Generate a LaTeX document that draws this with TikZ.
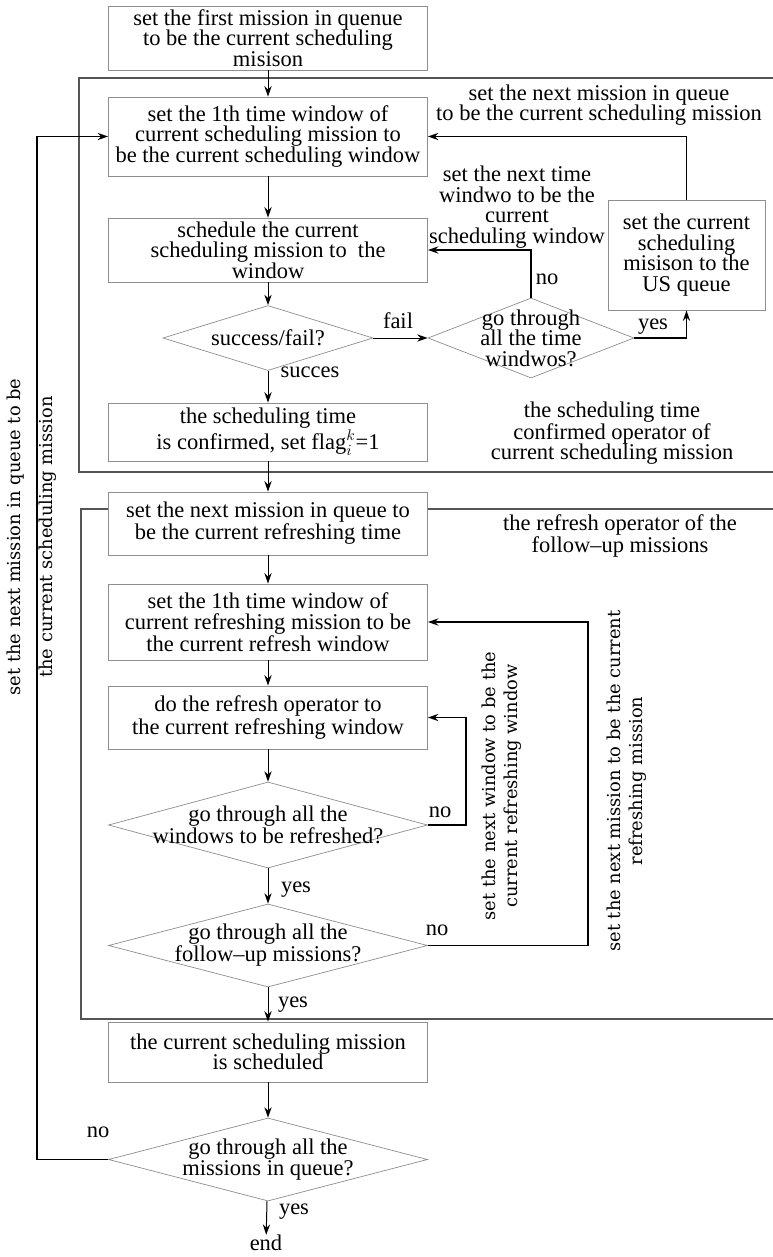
\documentclass[tikz,border=0pt]{standalone}
\usepackage{fontspec}
\setmainfont{Liberation Serif}
\newfontfamily\rotfont{DejaVu Serif}
\usepackage{tikz}
\usetikzlibrary{arrows.meta,shapes.geometric}
\definecolor{boxgray}{HTML}{8E8E8E}
\definecolor{framegray}{HTML}{555555}
\newcommand{\boxfont}{\fontsize{16}{14.6}\selectfont}
\newcommand{\sidefont}{\rotfont\fontsize{12.7}{15.6}\selectfont}
\tikzset{
  procbox/.style={
    rectangle, draw=boxgray, line width=0.6pt, fill=white,
    minimum width=7.975cm, inner sep=1pt, align=center, font=\boxfont
  },
  decision/.style={diamond, draw=boxgray, line width=0.5pt, fill=white, inner sep=0pt},
  dtext/.style={align=center, font=\boxfont, inner sep=0pt},
  flowarrow/.style={-{Stealth[length=2.6mm,width=1.8mm]}, line width=0.7pt, color=black},
  backarrow/.style={-{Stealth[length=2.6mm,width=1.8mm]}, line width=1.2pt, color=black},
  framebox/.style={draw=framegray, line width=0.9pt},
  sidenote/.style={align=center, font=\boxfont, inner sep=0pt},
  rotnote/.style={rotate=90, align=center, font=\sidefont, inner sep=0pt},
  flowlabel/.style={font=\boxfont, inner sep=0pt},
}
\begin{document}
\begin{tikzpicture}[x=0.025cm, y=-0.025cm]
  \useasboundingbox (0,0) rectangle (773,1257);
  % frames
  \draw[framebox] (773,78) -- (79,78) -- (79,472) -- (773,472);
  \draw[framebox] (773,509) -- (81,509) -- (81,1019) -- (773,1019);

  \node[procbox, minimum height=1.6cm] (first) at (268,38) {set the first mission in quenue\\to be the current scheduling\\misison};
  \node[procbox, minimum height=1.975cm] (win1) at (268,136.5) {set the 1th time window of\\current scheduling mission to\\be the current scheduling window};
  \node[procbox, minimum height=1.6cm] (sched) at (268,250) {schedule the current\\scheduling mission to\ \ the\\window};
  \node[decision, minimum width=5.25cm, minimum height=1.625cm] (succ) at (268,338) {};
  \node[dtext] (succt) at (succ) {success/fail?};
  \node[decision, minimum width=5.15cm, minimum height=2cm] (allwin) at (531,338) {};
  \node[dtext] (allwint) at (allwin) {go through\\all the time\\windwos?};
  \node[procbox, minimum width=3.925cm, minimum height=2.75cm] (usq) at (686.5,255) {set the current\\scheduling\\misison to the\\US queue};
  \node[procbox, minimum height=1.45cm] (conf) at (268,432) {the scheduling time\\is confirmed, set flag$_i^k$=1};

  \node[procbox, minimum height=1.575cm] (nextref) at (268,523.5) {set the next mission in queue to\\be the current refreshing time};
  \node[procbox, minimum height=1.9cm] (refwin) at (268,622) {set the 1th time window of\\current refreshing mission to be\\the current refresh window};
  \node[procbox, minimum height=1.575cm] (doref) at (268,717.5) {do the refresh operator to\\the current refreshing window};
  \node[decision, minimum width=7.975cm, minimum height=2.15cm] (allref) at (268,825) {};
  \node[dtext] (allreft) at (allref) {go through all the\\windows to be refreshed?};
  \node[decision, minimum width=7.975cm, minimum height=2.075cm] (allfol) at (268,945.5) {};
  \node[dtext] (allfolt) at (allfol) {go through all the\\follow--up missions?};

  \node[procbox, minimum height=1.5cm] (done) at (268,1052) {the current scheduling mission\\is scheduled};
  \node[decision, minimum width=7.975cm, minimum height=2.075cm] (allmis) at (268,1159.5) {};
  \node[dtext] (allmist) at (allmis) {go through all the\\missions in queue?};
  \node[flowlabel] (end) at (266,1243) {end};

  % side notes
  \node[sidenote] (nextmis) at (599,105) {set the next mission in queue\\to be the current scheduling mission};
  \node[sidenote] (nexttw) at (517,207) {set the next time\\windwo to be the\\current\\scheduling window};
  \node[sidenote] (confop) at (612,433) {the scheduling time\\confirmed operator of\\current scheduling mission};
  \node[sidenote] (refop) at (620,535.5) {the refresh operator of the\\follow--up missions};
  \node[rotnote, font=\rotfont\fontsize{12.7}{22.7}\selectfont] (leftnote) at (32,537) {set the next mission in queue to be\\the current scheduling mission};
  \node[rotnote] (nextwnote) at (502,786) {set the next window to be the\\current refreshing window};
  \node[rotnote] (nextmnote) at (627,781) {set the next mission to be the current\\refreshing mission};

  % flow labels
  \node[flowlabel] (lfail) at (398,321) {fail};
  \node[flowlabel] (lsucc) at (310,372) {succes};
  \node[flowlabel] (lno1) at (547,279) {no};
  \node[flowlabel] (lyes1) at (653,327) {yes};
  \node[flowlabel] (lno2) at (440,812) {no};
  \node[flowlabel] (lyes2) at (296,890) {yes};
  \node[flowlabel] (lno3) at (437,930) {no};
  \node[flowlabel] (lyes3) at (293,1005) {yes};
  \node[flowlabel] (lno4) at (98,1132) {no};
  \node[flowlabel] (lyes4) at (294,1212) {yes};

  % corners
  \coordinate (cref) at (466,717.5);
  \coordinate (cfol) at (588,622);
  \coordinate (cmis) at (37,136.5);

  \draw[flowarrow] (first) -- (win1);
  \draw[flowarrow] (win1) -- (sched);
  \draw[flowarrow] (sched) -- (succ);
  \draw[flowarrow] (succ) -- (conf);
  \draw[flowarrow] (succ.east) -- (allwin.west);
  \draw[backarrow] (allwin.north) |- (sched.east);
  \draw[backarrow] (allwin.east) -| (usq.south);
  \draw[backarrow] (usq.north) |- (win1.east);
  \draw[flowarrow] (conf) -- (nextref);
  \draw[flowarrow] (nextref) -- (refwin);
  \draw[flowarrow] (refwin) -- (doref);
  \draw[flowarrow] (doref) -- (allref);
  \draw[flowarrow] (allref) -- (allfol);
  \draw[flowarrow] (allfol) -- (done);
  \draw[flowarrow] (done) -- (allmis);
  \draw[flowarrow] (allmis) -- (end);
  \draw[backarrow] (allref.east) -| (cref) -- (doref.east);
  \draw[backarrow] (allfol.east) -| (cfol) -- (refwin.east);
  \draw[backarrow] (allmis.west) -| (cmis) -- (win1.west);
\end{tikzpicture}
\end{document}
